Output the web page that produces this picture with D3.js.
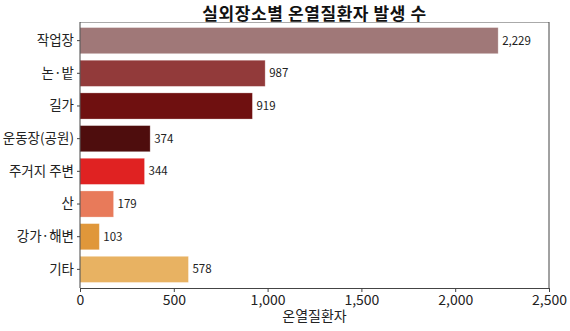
<!DOCTYPE html>
<html><head><meta charset="utf-8">
<script src="https://cdn.jsdelivr.net/npm/d3@7"></script>
<style>body{margin:0;background:#fff}svg{display:block}text{font-family:"Noto Sans CJK KR","Noto Sans",sans-serif}</style>
</head><body><svg id="c" width="570" height="331"></svg>
<script>
const categories = ["작업장","논·밭","길가","운동장(공원)","주거지 주변","산","강가·해변","기타"];
const values = [2229,987,919,374,344,179,103,578];
const colors = ["#a07878","#923a3a","#6f1010","#4e0d0d","#e02222","#e87a5a","#e0973a","#e8b262"];
const xTicks = [0,500,1000,1500,2000,2500];

const svg = d3.select("#c");
const m = {l:80, r:21, t:22, b:43};
const W = 570, H = 331;
const x = d3.scaleLinear().domain([0,2500]).range([m.l, W-m.r]);
const y = d3.scaleBand().domain(categories).range([m.t, H-m.b]).paddingInner(0.2).paddingOuter(0.17);
const fmt = d3.format(",");

svg.append("text").attr("x", (m.l + W - m.r)/2).attr("y", 20).attr("text-anchor","middle")
  .attr("font-size", 17).attr("font-weight","bold").attr("letter-spacing","0.6px").attr("fill","#111").text("실외장소별 온열질환자 발생 수");

svg.selectAll("rect.bar").data(values).join("rect").attr("class","bar")
  .attr("x", x(0)).attr("y", (d,i)=>y(categories[i]))
  .attr("width", d=>x(d)-x(0)).attr("height", y.bandwidth())
  .attr("fill", (d,i)=>colors[i]).attr("stroke","rgba(255,255,255,0.35)").attr("stroke-width",0.8);

svg.selectAll("text.val").data(values).join("text").attr("class","val")
  .attr("x", d=>x(d)+4).attr("y", (d,i)=>y(categories[i])+y.bandwidth()/2)
  .attr("dy","0.35em").attr("font-size",11.5).attr("fill","#222").text(d=>fmt(d));

// spines
svg.append("line").attr("x1",m.l).attr("x2",W-m.r).attr("y1",m.t+0.5).attr("y2",m.t+0.5).attr("stroke","#aaa");
svg.append("line").attr("x1",W-m.r).attr("x2",W-m.r).attr("y1",m.t).attr("y2",H-m.b).attr("stroke","#444");

const xa = svg.append("g").attr("transform",`translate(0,${H-m.b})`)
  .call(d3.axisBottom(x).tickValues(xTicks).tickFormat(fmt).tickSize(4).tickPadding(3));
xa.select(".domain").attr("stroke","#444");
xa.selectAll(".tick line").attr("stroke","#444");
xa.selectAll("text").attr("font-size",14).attr("fill","#222").attr("font-family",'"Noto Sans CJK KR",sans-serif');

const ya = svg.append("g").attr("transform",`translate(${m.l},0)`)
  .call(d3.axisLeft(y).tickSize(3).tickSizeOuter(0));
ya.select(".domain").attr("stroke","#444");
ya.selectAll(".tick line").attr("stroke","#444");
ya.selectAll("text").attr("font-size",13.5).attr("fill","#222").attr("font-family",'"Noto Sans CJK KR",sans-serif');
ya.select(".domain").attr("d",`M0,${m.t}V${H-m.b}`);

svg.append("text").attr("x",(m.l+W-m.r)/2).attr("y",321).attr("text-anchor","middle")
  .attr("font-size",14).attr("fill","#222").text("온열질환자");
</script></body></html>
